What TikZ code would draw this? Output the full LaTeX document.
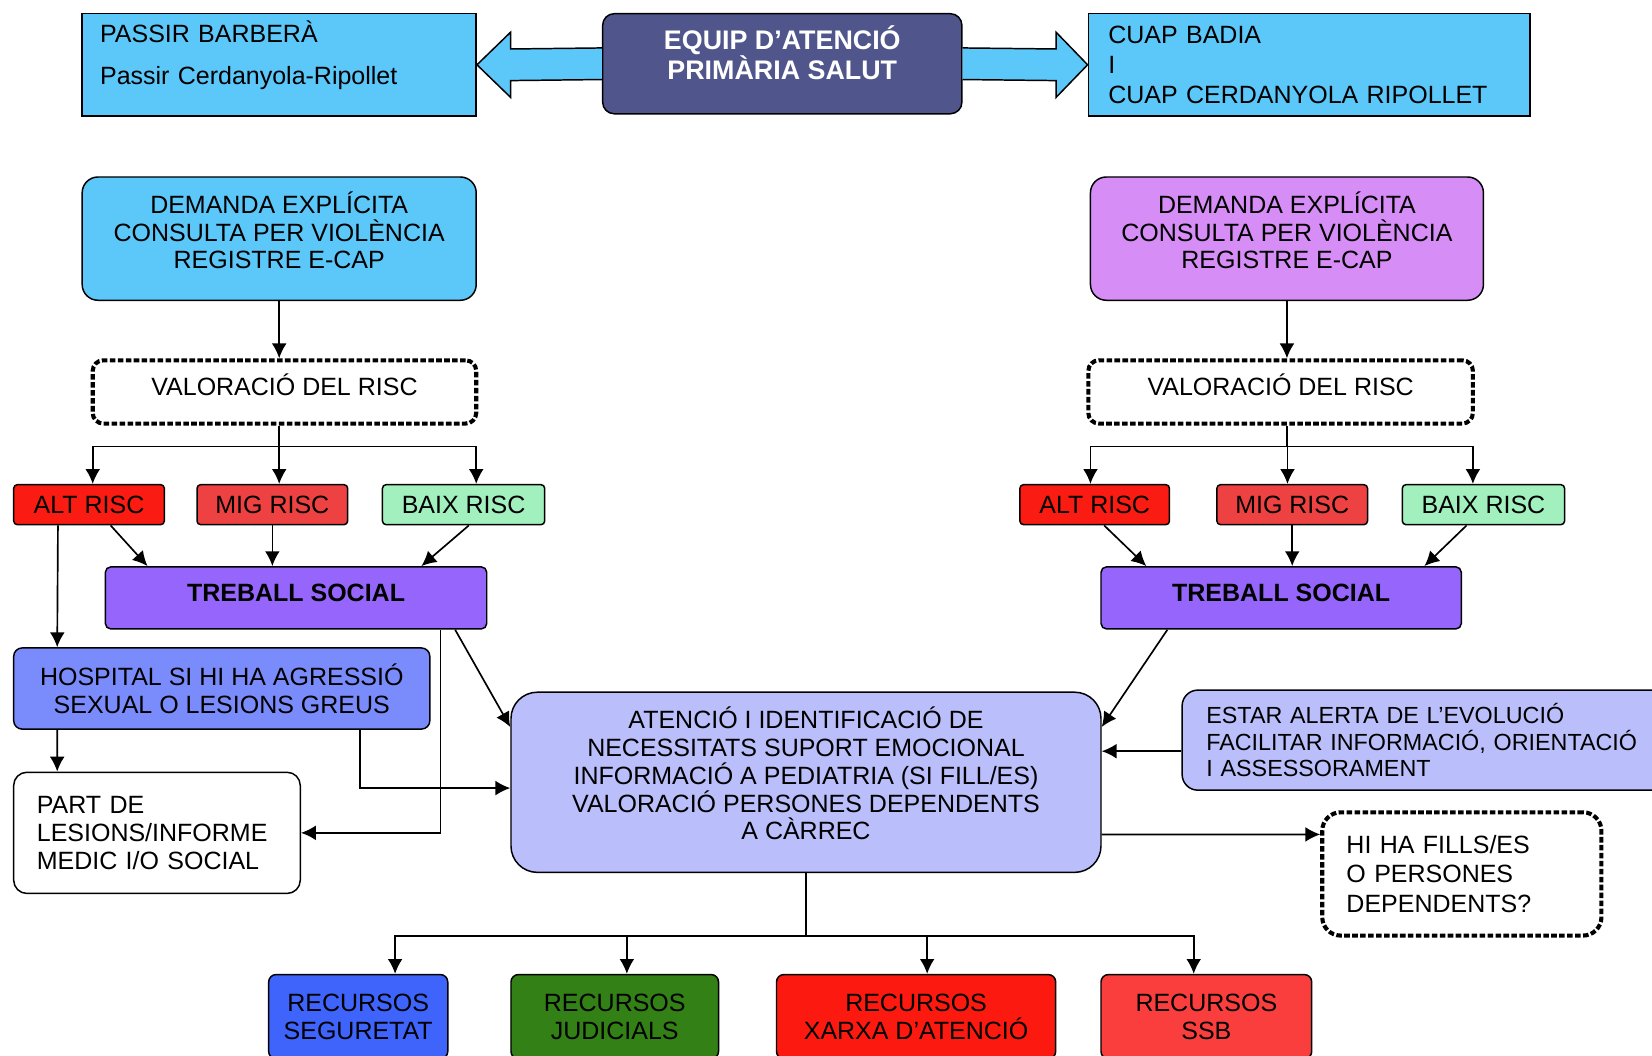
\documentclass[tikz,border=0pt]{standalone}
\usepackage{fontspec}
\setmainfont{Liberation Sans}
\usetikzlibrary{positioning,arrows.meta}
\definecolor{skyblue}{RGB}{92,200,250}
\definecolor{equipblue}{RGB}{80,86,140}
\definecolor{orchid}{RGB}{214,142,246}
\definecolor{altred}{RGB}{250,28,18}
\definecolor{migred}{RGB}{238,66,66}
\definecolor{baixgreen}{RGB}{162,240,190}
\definecolor{treballpurple}{RGB}{150,102,252}
\definecolor{hospblue}{RGB}{122,140,252}
\definecolor{lavender}{RGB}{186,190,250}
\definecolor{segblue}{RGB}{62,100,252}
\definecolor{judgreen}{RGB}{50,128,22}
\definecolor{xarxared}{RGB}{252,26,16}
\definecolor{ssbred}{RGB}{250,62,62}

\begin{document}
\begin{tikzpicture}[>={Latex[length=8pt,width=8pt]},line width=0.9pt,
    font=\fontsize{13.5}{15}\selectfont]
    \tikzset{box/.style={draw,line width=0.8pt,align=center,inner sep=0pt},
      rounded/.style={box,rounded corners=#1},
      rounded/.default=3pt,
      dotbox/.style={rounded=#1,fill=white,line width=2.2pt,dash pattern=on 3pt off 1.3pt},
      risc/.style={rounded=2pt,minimum width=#1,minimum height=0.76cm},
      recurs/.style={rounded=4pt,minimum width=#1,minimum height=1.6cm},
      blockarrow/.style={draw,fill=skyblue,line width=0.8pt,line join=miter}}
    \fill[white] (0,0) rectangle (31.36,-20.04);
    \useasboundingbox (0,0) rectangle (31.36,-20.04);

    \node[box,fill=skyblue,minimum width=7.48cm,minimum height=1.94cm,align=left,text width=6.80cm,inner xsep=0.34cm,text depth=36pt] (passir) at (5.30,-1.23) {PASSIR BARBERÀ\\[8pt]Passir Cerdanyola-Ripollet};
    \node[rounded=0.22cm,fill=equipblue,text=white,font=\fontsize{14.5}{16}\selectfont\bfseries,minimum width=6.82cm,minimum height=1.90cm,text depth=12pt] (equip) at (14.85,-1.21) {EQUIP D'ATENCIÓ\\PRIMÀRIA SALUT};
    \node[box,fill=skyblue,font=\fontsize{13.5}{16}\selectfont,minimum width=8.38cm,minimum height=1.94cm,align=left,text width=7.62cm,inner xsep=0.38cm] (cuap) at (24.85,-1.23) {CUAP BADIA\\I\\CUAP CERDANYOLA RIPOLLET};

    \node[rounded=0.3cm,fill=skyblue,minimum width=7.48cm,minimum height=2.34cm,text depth=9pt] (demL) at (5.30,-4.53) {DEMANDA EXPLÍCITA\\CONSULTA PER VIOLÈNCIA\\REGISTRE E-CAP};
    \node[rounded=0.3cm,fill=orchid,minimum width=7.46cm,minimum height=2.34cm,text depth=9pt] (demR) at (24.43,-4.53) {DEMANDA EXPLÍCITA\\CONSULTA PER VIOLÈNCIA\\REGISTRE E-CAP};
    \node[dotbox=0.2cm,minimum width=7.28cm,minimum height=1.2cm,text depth=8pt] (valL) at (5.40,-7.44) {VALORACIÓ DEL RISC};
    \node[dotbox=0.2cm,minimum width=7.30cm,minimum height=1.2cm,text depth=8pt] (valR) at (24.31,-7.44) {VALORACIÓ DEL RISC};

    \node[risc=2.86cm,fill=altred] (altL) at (1.69,-9.58) {ALT RISC};
    \node[risc=2.86cm,fill=migred] (migL) at (5.17,-9.58) {MIG RISC};
    \node[risc=3.08cm,fill=baixgreen] (baixL) at (8.80,-9.58) {BAIX RISC};
    \node[risc=2.84cm,fill=altred] (altR) at (20.78,-9.58) {ALT RISC};
    \node[risc=2.86cm,fill=migred] (migR) at (24.53,-9.58) {MIG RISC};
    \node[risc=3.08cm,fill=baixgreen] (baixR) at (28.16,-9.58) {BAIX RISC};

    \node[rounded,fill=treballpurple,font=\fontsize{13.5}{15}\selectfont\bfseries,minimum width=7.24cm,minimum height=1.18cm,text depth=5.5pt] (tsL) at (5.62,-11.35) {TREBALL SOCIAL};
    \node[rounded,fill=treballpurple,font=\fontsize{13.5}{15}\selectfont\bfseries,minimum width=6.84cm,minimum height=1.18cm,text depth=5.5pt] (tsR) at (24.32,-11.35) {TREBALL SOCIAL};

    \node[rounded=0.16cm,fill=hospblue,minimum width=7.90cm,minimum height=1.54cm] (hosp) at (4.21,-13.07) {HOSPITAL SI HI HA AGRESSIÓ\\SEXUAL O LESIONS GREUS};
    \node[rounded=0.25cm,fill=white,minimum width=5.44cm,minimum height=2.30cm,align=left,text width=4.56cm,inner xsep=0.44cm] (part) at (2.98,-15.81) {PART DE\\LESIONS/INFORME\\MEDIC I/O SOCIAL};
    \node[rounded=0.5cm,fill=lavender,minimum width=11.2cm,minimum height=3.42cm,text depth=9.5pt] (aten) at (15.30,-14.85) {ATENCIÓ I IDENTIFICACIÓ DE\\NECESSITATS SUPORT EMOCIONAL\\INFORMACIÓ A PEDIATRIA (SI FILL/ES)\\VALORACIÓ PERSONES DEPENDENTS\\A CÀRREC};
    \node[rounded=0.3cm,fill=lavender,font=\fontsize{12.6}{14.3}\selectfont,minimum width=10.2cm,minimum height=1.9cm,align=left,text width=9.28cm,inner xsep=0.46cm] (estar) at (27.54,-14.05) {ESTAR ALERTA DE L'EVOLUCIÓ\\FACILITAR INFORMACIÓ, ORIENTACIÓ\\I ASSESSORAMENT};
    \node[dotbox=0.35cm,font=\fontsize{13.5}{16}\selectfont,minimum width=5.30cm,minimum height=2.34cm,align=left,text width=4.38cm,inner xsep=0.46cm] (hiha) at (27.75,-16.59) {HI HA FILLS/ES\\O PERSONES\\DEPENDENTS?};

    \node[recurs=3.40cm,fill=segblue] (seg) at (6.80,-19.30) {RECURSOS\\SEGURETAT};
    \node[recurs=3.94cm,fill=judgreen] (jud) at (11.67,-19.30) {RECURSOS\\JUDICIALS};
    \node[recurs=5.30cm,fill=xarxared] (xarxa) at (17.39,-19.30) {RECURSOS\\XARXA D'ATENCIÓ};
    \node[recurs=4.00cm,fill=ssbred] (ssb) at (22.90,-19.30) {RECURSOS\\SSB};

    \draw[blockarrow] ([yshift=0.3cm]equip.west) -- ([xshift=0.64cm,yshift=0.3cm]passir.east) -- ([xshift=0.64cm,yshift=0.62cm]passir.east) -- (passir.east) -- ([xshift=0.64cm,yshift=-0.62cm]passir.east) -- ([xshift=0.64cm,yshift=-0.3cm]passir.east) -- ([yshift=-0.3cm]equip.west);
    \draw[blockarrow] ([yshift=0.3cm]equip.east) -- ([xshift=-0.60cm,yshift=0.3cm]cuap.west) -- ([xshift=-0.60cm,yshift=0.62cm]cuap.west) -- (cuap.west) -- ([xshift=-0.60cm,yshift=-0.62cm]cuap.west) -- ([xshift=-0.60cm,yshift=-0.3cm]cuap.west) -- ([yshift=-0.3cm]equip.east);

    \path[->]
    (demL.south) edge (demL.south |- valL.north)
    (demR.south) edge (demR.south |- valR.north)
    ;
    \draw (demL.south |- valL.south) -- ++(0,-0.4) coordinate (busL);
    \draw (demR.south |- valR.south) -- ++(0,-0.4) coordinate (busR);
    \draw[->] (busL) -| ([xshift=0.07cm]altL.north);
    \draw[->] (busL) -| ([xshift=0.13cm]migL.north);
    \draw[->] (busL) -| ([xshift=0.24cm]baixL.north);
    \draw[->] (busR) -| ([xshift=-0.08cm]altR.north);
    \draw[->] (busR) -| ([xshift=-0.09cm]migR.north);
    \draw[->] (busR) -| ([xshift=-0.20cm]baixR.north);

    \path[->]
    ([xshift=0.41cm]altL.south) edge ([xshift=-2.82cm]tsL.north)
    (migL.south) edge (migL.south |- tsL.north)
    ([xshift=0.10cm]baixL.south) edge ([xshift=2.38cm]tsL.north)
    ([xshift=0.18cm]altR.south) edge ([xshift=-2.56cm]tsR.north)
    (migR.south) edge (migR.south |- tsR.north)
    ([xshift=-0.32cm]baixR.south) edge ([xshift=2.72cm]tsR.north)
    ([xshift=-0.59cm]altL.south) edge ([xshift=0.84cm]hosp.north west)
    ([xshift=0.84cm]hosp.south west) edge ([xshift=0.84cm]part.north west)
    ([xshift=3.02cm]tsL.south) edge ([yshift=1.05cm]aten.west)
    ([xshift=-2.16cm]tsR.south) edge ([yshift=1.05cm]aten.east)
    ([yshift=-0.21cm]estar.west) edge ([yshift=0.59cm]aten.east)
    ([yshift=-0.99cm]aten.east) edge ([yshift=0.75cm]hiha.west)
    ;
    \draw[->] ([xshift=2.63cm]hosp.south) |- ([yshift=-0.11cm]aten.west);
    \draw[->] ([xshift=2.74cm]tsL.south) |- (part.east);

    \draw (aten.south) -- ++(0,-1.2) coordinate (busB);
    \draw[->] (busB) -| ([xshift=0.70cm]seg.north);
    \draw[->] (busB) -| ([xshift=0.23cm]jud.north);
    \draw[->] (busB) -| ([xshift=0.21cm]xarxa.north);
    \draw[->] (busB) -| ([xshift=-0.24cm]ssb.north);
  \end{tikzpicture}
\end{document}
